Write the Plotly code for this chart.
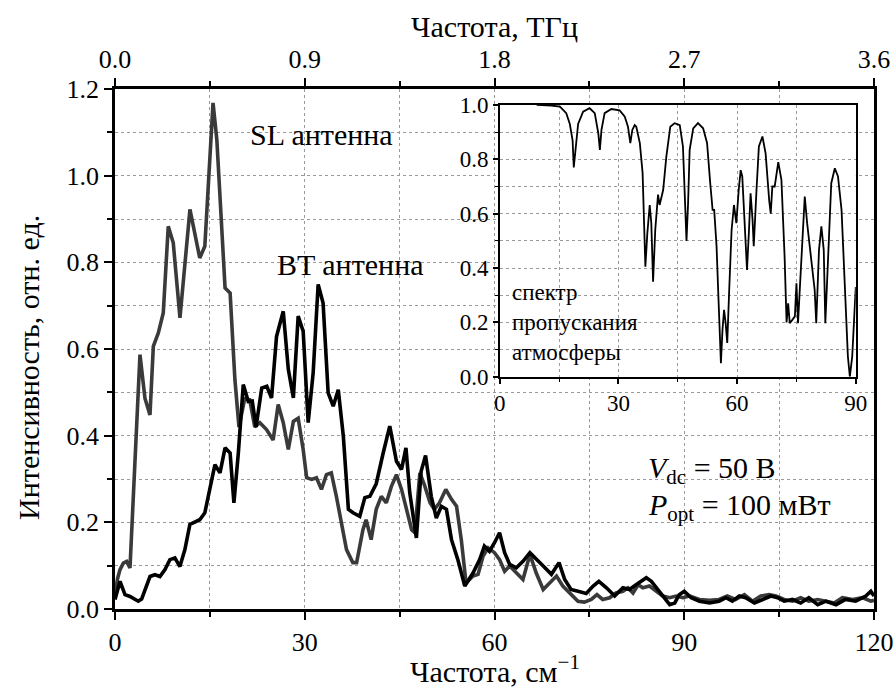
import plotly.graph_objects as go

# ---------------- data ----------------
sl_x = [0, 0.4, 0.79, 1.32, 1.84, 2.37, 3.95, 4.74, 5.53, 6.06, 6.85, 7.63, 8.42, 9.21, 10.27,
        11.85, 13.4, 14.2, 15.5, 16.1, 17.4, 18.2, 18.96, 19.6, 20.5, 21.3, 22.1, 22.9, 23.96,
        25.0, 25.8, 26.6, 27.4, 28.2, 28.96, 29.75, 30.3, 31.1, 31.85, 32.64, 33.43, 34.2, 35.0,
        35.8, 36.6, 37.6, 38.2, 39.2, 39.7, 40.5, 41.3, 42.1, 42.9, 43.7, 44.5, 45.3, 46.1, 46.9,
        47.4, 48.2, 49.0, 49.8, 50.5, 51.3, 52.3, 53.2, 54.0, 54.75, 55.5, 56.6, 57.4, 58.2, 59.0,
        60.0, 60.8, 61.6, 62.4, 63.45, 64.5, 65.6, 66.6, 67.7, 68.7, 69.8, 70.8, 72.1, 73.2, 74.2,
        75.3, 76.2, 77.1, 78.2, 79.2, 80.3, 81.1, 81.9, 82.7, 83.45, 84.5, 85.6, 86.6, 87.7, 88.7,
        89.8, 90.8, 92.4, 94.0, 95.5, 96.8, 98.1, 99.5, 100.8, 102.1, 103.4, 104.5, 105.8, 107.1,
        108.4, 109.7, 111.1, 112.4, 113.7, 115.0, 116.6, 118.2, 119.5, 120]
sl_y = [0.03, 0.07, 0.091, 0.106, 0.110, 0.095, 0.587, 0.486, 0.448, 0.606, 0.637, 0.683, 0.883, 0.845, 0.672,
        0.922, 0.81, 0.837, 1.168, 1.083, 0.741, 0.729, 0.529, 0.42, 0.485, 0.483, 0.42, 0.43, 0.414,
        0.39, 0.472, 0.43, 0.368, 0.433, 0.44, 0.368, 0.303, 0.299, 0.303, 0.276, 0.31, 0.314, 0.26,
        0.2, 0.137, 0.107, 0.107, 0.183, 0.206, 0.16, 0.23, 0.26, 0.245, 0.283, 0.31, 0.276, 0.23, 0.183,
        0.176, 0.314, 0.283, 0.245, 0.23, 0.245, 0.276, 0.253, 0.237, 0.16, 0.06, 0.076, 0.08, 0.122, 0.141,
        0.13, 0.114, 0.087, 0.099, 0.083, 0.068, 0.126, 0.083, 0.045, 0.06, 0.076, 0.053, 0.033, 0.018, 0.016,
        0.022, 0.033, 0.022, 0.026, 0.037, 0.041, 0.049, 0.037, 0.056, 0.049, 0.053, 0.041, 0.03, 0.026, 0.03,
        0.026, 0.03, 0.022, 0.02, 0.022, 0.03, 0.022, 0.033, 0.018, 0.03, 0.033, 0.03, 0.022, 0.018,
        0.026, 0.018, 0.022, 0.018, 0.014, 0.026, 0.022, 0.026, 0.018, 0.02]

bt_x = [0, 0.79, 1.58, 2.37, 3.68, 4.21, 5.53, 6.32, 7.1, 7.9, 8.68, 9.47, 10.26, 11.05, 11.84,
        12.63, 13.4, 14.2, 15.0, 15.8, 16.6, 17.4, 18.2, 18.8, 19.5, 20.28, 21.07, 21.7, 22.3, 23.2,
        24.0, 24.75, 25.54, 26.6, 27.4, 28.2, 28.96, 29.75, 30.54, 31.33, 32.12, 32.9, 33.7, 34.5,
        35.3, 36.1, 36.9, 37.64, 38.7, 39.5, 40.3, 41.3, 42.4, 43.44, 44.5, 45.3, 46.0, 46.6, 47.65,
        48.4, 49.1, 50.0, 50.8, 51.6, 52.4, 53.2, 54.2, 55.3, 56.6, 57.65, 58.4, 59.2, 60.0, 60.8,
        61.6, 62.4, 63.45, 64.5, 65.6, 66.6, 67.7, 69.0, 70.2, 71.1, 72.1, 73.2, 74.5, 75.6, 76.5,
        77.7, 79.0, 80.3, 81.35, 82.1, 83.2, 84.0, 84.8, 85.8, 86.9, 87.7, 88.5, 89.2, 90.0, 91.1,
        92.4, 94.0, 95.5, 96.6, 97.6, 98.7, 99.7, 101.1, 102.4, 103.7, 104.75, 105.8, 107.1, 108.4,
        109.7, 111.1, 112.4, 114.0, 115.5, 117.1, 118.7, 119.5, 120]
bt_y = [0.022, 0.064, 0.033, 0.029, 0.018, 0.023, 0.075, 0.079, 0.075, 0.091, 0.114, 0.118, 0.098, 0.137, 0.195,
        0.2, 0.206, 0.222, 0.275, 0.333, 0.314, 0.372, 0.36, 0.245, 0.36, 0.518, 0.479, 0.48, 0.42, 0.51,
        0.514, 0.487, 0.629, 0.687, 0.553, 0.487, 0.676, 0.641, 0.43, 0.545, 0.749, 0.706, 0.499, 0.468,
        0.506, 0.399, 0.23, 0.222, 0.214, 0.257, 0.26, 0.289, 0.36, 0.422, 0.341, 0.322, 0.372, 0.268, 0.164,
        0.318, 0.354, 0.26, 0.21, 0.237, 0.23, 0.16, 0.114, 0.053, 0.083, 0.114, 0.145, 0.133, 0.153, 0.176,
        0.13, 0.103, 0.095, 0.11, 0.13, 0.114, 0.099, 0.08, 0.107, 0.068, 0.045, 0.041, 0.036, 0.053, 0.064,
        0.049, 0.03, 0.049, 0.045, 0.053, 0.064, 0.072, 0.064, 0.045, 0.026, 0.01, 0.014, 0.033, 0.041, 0.026,
        0.018, 0.014, 0.018, 0.026, 0.018, 0.03, 0.026, 0.014, 0.022, 0.03, 0.026, 0.018, 0.022, 0.014,
        0.026, 0.01, 0.018, 0.01, 0.022, 0.018, 0.03, 0.041, 0.03]

atm_x = [9.3, 13, 15.2, 16.8, 17.7, 18.4, 18.7, 19.2, 19.8, 21.06, 22.7, 24.0, 24.9, 25.3, 25.7, 26.5,
         28.2, 30.3, 31.6, 32.4, 33.0, 33.5, 34.1, 34.5, 35.4, 36.1, 36.5, 36.8, 37.3, 37.9, 38.3,
         38.75, 39.3, 40.0, 40.4, 41.3, 42.1, 43.1, 44.2, 45.5, 46.3, 47.0, 47.2, 47.6, 48.0, 48.9,
         50.1, 51.4, 52.4, 53.2, 53.8, 54.2, 54.8, 55.2, 55.6, 55.9, 56.3, 56.7, 57.1, 57.5, 58.0,
         58.6, 59.2, 59.8, 60.4, 60.9, 61.3, 61.9, 62.5, 63.0, 63.4, 63.9, 64.2, 64.9, 65.5, 66.4,
         67.2, 68.1, 68.5, 68.9, 69.5, 70.4, 71.2, 72.0, 72.5, 72.9, 73.3, 74.0, 74.6, 75.0, 75.4,
         75.8, 76.5, 77.1, 77.7, 78.8, 79.6, 80.0, 80.7, 81.3, 81.9, 82.3, 83.0, 83.8, 84.7, 85.5,
         86.4, 87.2, 88.0, 88.5, 89.1, 89.7, 90.0]
atm_y = [1.0, 0.998, 0.994, 0.97, 0.93, 0.87, 0.77, 0.85, 0.93, 0.975, 0.988, 0.97, 0.896, 0.835, 0.908, 0.97,
         0.985, 0.98, 0.957, 0.92, 0.86, 0.908, 0.926, 0.92, 0.86, 0.75, 0.565, 0.405, 0.528, 0.632, 0.565,
         0.35, 0.54, 0.67, 0.632, 0.687, 0.81, 0.92, 0.933, 0.926, 0.847, 0.614, 0.5, 0.638, 0.835, 0.914,
         0.933, 0.914, 0.86, 0.712, 0.614, 0.614, 0.48, 0.32, 0.124, 0.05, 0.173, 0.246, 0.197, 0.124, 0.32,
         0.54, 0.632, 0.565, 0.687, 0.76, 0.737, 0.565, 0.393, 0.54, 0.675, 0.577, 0.48, 0.687, 0.847, 0.884,
         0.822, 0.65, 0.6, 0.7, 0.7, 0.79, 0.724, 0.442, 0.2, 0.27, 0.197, 0.21, 0.222, 0.344, 0.197,
         0.31, 0.528, 0.663, 0.565, 0.418, 0.32, 0.197, 0.467, 0.553, 0.467, 0.197, 0.442, 0.712, 0.767, 0.737,
         0.614, 0.369, 0.075, 0.0, 0.075, 0.246, 0.33]

thz_ticks = [0.0, 0.9, 1.8, 2.7, 3.6]

FONT = "Liberation Serif, Times New Roman, serif"
GRID = "#9a9a9a"

fig = go.Figure()
fig.add_trace(go.Scatter(x=sl_x, y=sl_y, mode="lines", line=dict(color="#3a3a3a", width=3.6),
                         xaxis="x", yaxis="y", showlegend=False, hoverinfo="skip"))
fig.add_trace(go.Scatter(x=bt_x, y=bt_y, mode="lines", line=dict(color="#000000", width=3.6),
                         xaxis="x", yaxis="y", showlegend=False, hoverinfo="skip"))
# invisible trace to activate the top THz axis
fig.add_trace(go.Scatter(x=thz_ticks, y=[0] * len(thz_ticks), mode="markers", marker=dict(opacity=0),
                         xaxis="x3", yaxis="y", showlegend=False, hoverinfo="skip"))
# inset
fig.add_trace(go.Scatter(x=atm_x, y=atm_y, mode="lines", line=dict(color="#000000", width=1.8),
                         xaxis="x2", yaxis="y2", showlegend=False, hoverinfo="skip"))

tickfont = dict(family=FONT, size=26, color="black")
insetfont = dict(family=FONT, size=23, color="black")

fig.update_layout(
    width=896, height=691,
    margin=dict(l=115, r=22, t=89, b=82),
    paper_bgcolor="white", plot_bgcolor="white",
    font=dict(family=FONT, color="black"),
    xaxis=dict(domain=[0, 1], range=[0, 120], dtick=30, tick0=0, ticks="outside", ticklen=8, tickwidth=2,
               tickcolor="black", showline=True, linecolor="black", linewidth=2.5, mirror=True,
               showgrid=True, gridcolor=GRID, griddash="dot", gridwidth=1, zeroline=False,
               tickfont=tickfont, anchor="y", automargin=False,
               minor=dict(dtick=15, tick0=0, ticks="outside", ticklen=5, tickwidth=1.5, tickcolor="black",
                          showgrid=True, gridcolor=GRID, griddash="dot", gridwidth=1)),
    yaxis=dict(domain=[0, 1], range=[0, 1.2], dtick=0.2, tick0=0, tickformat=".1f", ticks="outside",
               ticklen=8, tickwidth=2, tickcolor="black", showline=True, linecolor="black", linewidth=2.5,
               mirror=True, showgrid=True, gridcolor=GRID, griddash="dot", gridwidth=1, zeroline=False,
               tickfont=tickfont, anchor="x", automargin=False,
               minor=dict(dtick=0.1, tick0=0, ticks="outside", ticklen=5, tickwidth=1.5, tickcolor="black",
                          showgrid=True, gridcolor=GRID, griddash="dot", gridwidth=1)),
    xaxis3=dict(overlaying="x", side="top", anchor="y", range=[0, 3.6], tickvals=thz_ticks,
                tickformat=".1f", ticks="outside", ticklen=8, tickwidth=2, tickcolor="black",
                showline=True, linecolor="black", linewidth=2.5, showgrid=False, zeroline=False,
                tickfont=tickfont, automargin=False,
                minor=dict(dtick=0.45, tick0=0, ticks="outside", ticklen=5, tickwidth=1.5, tickcolor="black",
                           showgrid=False)),
    xaxis2=dict(domain=[0.507, 0.976], range=[0, 90], dtick=30, tick0=0, anchor="y2", ticks="outside",
                ticklen=5, tickwidth=1.5, tickcolor="black", showline=True, linecolor="black", linewidth=1.6,
                mirror=True, showgrid=True, gridcolor=GRID, griddash="dot", gridwidth=1, zeroline=False,
                tickfont=insetfont, automargin=False,
                minor=dict(dtick=15, tick0=0, ticks="outside", ticklen=3, tickwidth=1, tickcolor="black",
                           showgrid=True, gridcolor=GRID, griddash="dot", gridwidth=1)),
    yaxis2=dict(domain=[0.4467, 0.9693], range=[0, 1.0], dtick=0.2, tick0=0, tickformat=".1f", anchor="x2",
                ticks="outside", ticklen=5, tickwidth=1.5, tickcolor="black", showline=True, linecolor="black",
                linewidth=1.6, mirror=True, showgrid=True, gridcolor=GRID, griddash="dot", gridwidth=1,
                zeroline=False, tickfont=insetfont, automargin=False,
                minor=dict(dtick=0.1, tick0=0, ticks="outside", ticklen=3, tickwidth=1, tickcolor="black",
                           showgrid=True, gridcolor=GRID, griddash="dot", gridwidth=1)),
)

ann_font = dict(family=FONT, size=30, color="black")
title_font = dict(family=FONT, size=30, color="black")
annotations = [
    dict(text="SL антенна", x=21.0, y=1.095, xref="x", yref="y", xanchor="left", yanchor="middle",
         showarrow=False, font=ann_font),
    dict(text="BT антенна", x=25.3, y=0.795, xref="x", yref="y", xanchor="left", yanchor="middle",
         showarrow=False, font=ann_font),
    dict(text="спектр<br>пропускания<br>атмосферы", x=2.5, y=0.2, xref="x2", yref="y2",
         xanchor="left", yanchor="middle", align="left", showarrow=False,
         font=dict(family=FONT, size=23, color="black")),
    dict(text="<i>V</i><sub>dc</sub> = 50 В", x=84.0, y=0.32, xref="x", yref="y", xanchor="left",
         yanchor="middle", showarrow=False, font=ann_font),
    dict(text="<i>P</i><sub>opt</sub> = 100 мВт", x=84.0, y=0.235, xref="x", yref="y", xanchor="left",
         yanchor="middle", showarrow=False, font=ann_font),
    dict(text="Частота, см<sup>−1</sup>", x=0.5, y=-0.116, xref="paper", yref="paper", xanchor="center",
         yanchor="middle", showarrow=False, font=title_font),
    dict(text="Частота, ТГц", x=0.5, y=1.12, xref="paper", yref="paper", xanchor="center",
         yanchor="middle", showarrow=False, font=title_font),
    dict(text="Интенсивность, отн. ед.", x=-0.115, y=0.465, xref="paper", yref="paper", xanchor="center",
         yanchor="middle", textangle=-90, showarrow=False, font=title_font),
]
fig.update_layout(annotations=annotations)

fig.write_html("out.html", config={"displayModeBar": False},
               post_script="document.body.style.margin='0';document.body.style.overflow='hidden';")
